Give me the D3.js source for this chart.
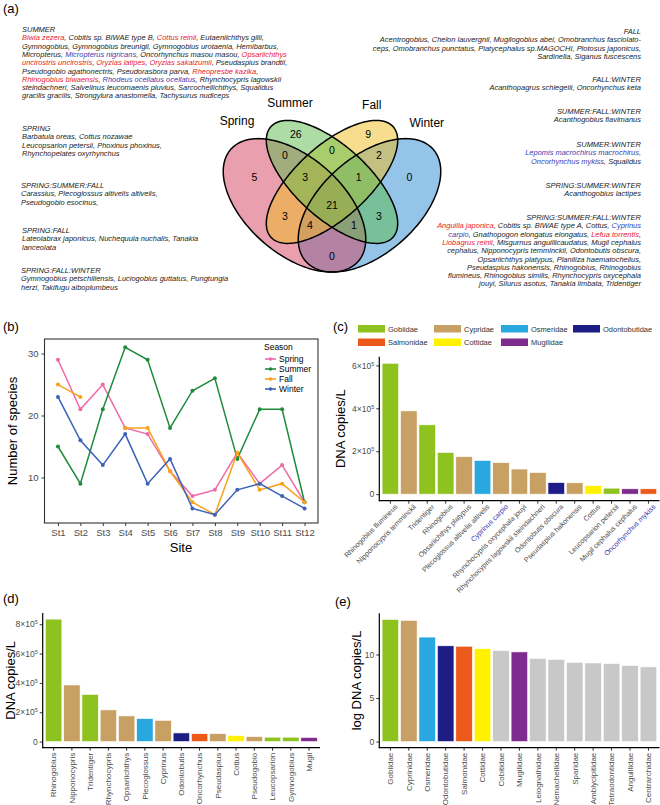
<!DOCTYPE html>
<html>
<head>
<meta charset="utf-8">
<script src="https://cdn.jsdelivr.net/npm/d3@7"></script>
<style>
body { margin: 0; background: #fff; }
svg { font-family: "Liberation Sans", Arial, sans-serif; }
</style>
</head>
<body>
<svg id="chart" width="660" height="805"></svg>
<script>
// ---------- data ----------
// species lists in the venn panel, segments: [text, colour flag]  (r = red, b = blue)
var summerSpp = [
  [["Biwia zezera", "r"], [", Cobitis sp. BIWAE type B, "], ["Cottus reinii", "r"], [", Eutaeniichthys gilli,"]],
  [["Gymnogobius, Gymnogobius breunigii, Gymnogobius urotaenia, Hemibarbus,"]],
  [["Micropterus, "], ["Micropterus nigricans", "b"], [", Oncorhynchus masou masou, "], ["Opsariichthys", "r"]],
  [["uncirostris uncirostris", "r"], [", "], ["Oryzias latipes", "r"], [", "], ["Oryzias sakaizumii", "r"], [", Pseudaspius brandtii,"]],
  [["Pseudogobio agathonectris, Pseudorasbora parva, "], ["Rheopresbe kazika", "r"], [","]],
  [["Rhinogobius biwaensis", "r"], [", "], ["Rhodeus ocellatus ocellatus", "b"], [", Rhynchocypris lagowskii"]],
  [["steindachneri, Salvelinus leucomaenis pluvius, Sarcocheilichthys, Squalidus"]],
  [["gracilis gracilis, Strongylura anastomella, Tachysurus nudiceps"]]
];
var springSpp = [
  [["Barbatula oreas, Cottus nozawae"]],
  [["Leucopsarion petersii, Phoxinus phoxinus,"]],
  [["Rhynchopelates oxyrhynchus"]]
];
var sprSumFallSpp = [
  [["Carassius, Plecoglossus altivelis altivelis,"]],
  [["Pseudogobio esocinus,"]]
];
var sprFallSpp = [
  [["Lateolabrax japonicus, Nuchequula nuchalis, Tanakia"]],
  [["lanceolata"]]
];
var sprFallWinSpp = [
  [["Gymnogobius petschiliensis, Luciogobius guttatus, Pungtungia"]],
  [["herzi, Takifugu alboplumbeus"]]
];
var fallSpp = [
  [["Acentrogobius, Chelon lauvergnii, Mugilogobius abei, Omobranchus fasciolato-"]],
  [["ceps, Omobranchus punctatus, Platycephalus sp.MAGOCHI, Plotosus japonicus,"]],
  [["Sardinella, Siganus fuscescens"]]
];
var fallWinSpp = [[["Acanthopagrus schlegelii, Oncorhynchus keta"]]];
var sumFallWinSpp = [[["Acanthogobius flavimanus"]]];
var sumWinSpp = [
  [["Lepomis macrochirus macrochirus,", "b"]],
  [["Oncorhynchus mykiss", "b"], [", Squalidus"]]
];
var sprSumWinSpp = [[["Acanthogobius lactipes"]]];
var allSeasonSpp = [
  [["Anguilla japonica", "r"], [", Cobitis sp. BIWAE type A, Cottus, "], ["Cyprinus", "b"]],
  [["carpio", "b"], [", Gnathopogon elongatus elongatus, "], ["Lefua torrentis", "r"], [","]],
  [["Liobagrus reinii", "r"], [", Misgurnus anguillicaudatus, Mugil cephalus"]],
  [["cephalus, Nipponocypris temminckii, Odontobutis obscura,"]],
  [["Opsariichthys platypus, Planiliza haematocheilus,"]],
  [["Pseudaspius hakonensis,  Rhinogobius, Rhinogobius"]],
  [["flumineus, Rhinogobius similis, Rhynchocypris oxycephala"]],
  [["jouyi, Silurus asotus, Tanakia limbata, Tridentiger"]]
];

// venn
var vennSets = ["Spring", "Summer", "Fall", "Winter"];
var vennFill = ["#d43f5e", "#5cbb4c", "#f0bd1e", "#2a8ad2"];
var vennCounts = [5, 26, 9, 0, 0, 0, 2, 3, 1, 21, 3, 3, 4, 1, 0];

// (b) species richness per site
var sites = ["St1", "St2", "St3", "St4", "St5", "St6", "St7", "St8", "St9", "St10", "St11", "St12"];
var seasons = ["Spring", "Summer", "Fall", "Winter"];
var springN = [29, 21, 25, 18, 17, 11, 7, 8, 14, 9, 12, 6];
var summerN = [15, 9, 21, 31, 29, 18, 24, 26, 13, 21, 21, 6];
var fallN = [25, 23, null, 18, 18, 11, 6, 4, 14, 8, 9, 6];
var winterN = [23, 16, 12, 17, 9, 13, 5, 4, 8, 9, 7, 5];
var seasonColors = ["#ef6aa8", "#1f8b3b", "#f7a21b", "#3b62b8"];

// family colours
var families = ["Gobiidae", "Cypridae", "Osmeridae", "Odontobutidae", "Salmonidae", "Cottidae", "Mugilidae"];
var familyColors = ["#8dc21f", "#c8a064", "#29a8e0", "#1d1d85", "#eb5a1b", "#fff200", "#7e2d8e"];

// (c) species
var cSpecies = ["Rhinogobius flumineus", "Nipponocypris temminckii", "Tridentiger", "Rhinogobius",
  "Opsariichthys platypus", "Plecoglossus altivelis altivelis", "Cyprinus carpio",
  "Rhynchocypris oxycephala jouyi", "Rhynchocypris lagowskii steindachneri", "Odontobutis obscura",
  "Pseudaspius hakonensis", "Cottus", "Leucopsarion petersii", "Mugil cephalus cephalus", "Oncorhynchus mykiss"];
var cValues = [610000, 388000, 323000, 194000, 175000, 157000, 147000, 117000, 101000, 54000, 53000, 40000, 28000, 25000, 25000];
var cFamily = ["Gobiidae", "Cypridae", "Gobiidae", "Gobiidae", "Cypridae", "Osmeridae", "Cypridae", "Cypridae",
  "Cypridae", "Odontobutidae", "Cypridae", "Cottidae", "Gobiidae", "Mugilidae", "Salmonidae"];
var cBlueLabels = ["Cyprinus carpio", "Oncorhynchus mykiss"];

// (d) genus
var dGenus = ["Rhinogobius", "Nipponocypris", "Tridentiger", "Rhynchocypris", "Opsariichthys", "Plecoglossus",
  "Cyprinus", "Odontobutis", "Oncorhynchus", "Pseudaspius", "Cottus", "Pseudogobio", "Leucopsarion", "Gymnogobius", "Mugil"];
var dValues = [835000, 386000, 322000, 216000, 175000, 157000, 145000, 59000, 54000, 54000, 41000, 34000, 30000, 30000, 28000];
var dFamily = ["Gobiidae", "Cypridae", "Gobiidae", "Cypridae", "Cypridae", "Osmeridae", "Cypridae", "Odontobutidae",
  "Salmonidae", "Cypridae", "Cottidae", "Cypridae", "Gobiidae", "Gobiidae", "Mugilidae"];

// (e) family, log copies
var eFamily = ["Gobiidae", "Cyprinidae", "Osmeridae", "Odontobutidae", "Salmonidae", "Cottidae", "Cobitidae", "Mugilidae",
  "Leiognathidae", "Nemacheilidae", "Sparidae", "Amblycipitidae", "Tetraodontidae", "Anguillidae", "Centrarchidae"];
var eValues = [14.03, 13.92, 12.0, 11.0, 10.95, 10.67, 10.45, 10.3, 9.55, 9.44, 9.1, 9.03, 8.96, 8.73, 8.58];
var eColors = ["#8dc21f", "#c8a064", "#29a8e0", "#1d1d85", "#eb5a1b", "#fff200", "#c8c8c8", "#7e2d8e",
  "#c8c8c8", "#c8c8c8", "#c8c8c8", "#c8c8c8", "#c8c8c8", "#c8c8c8", "#c8c8c8"];

// ---------- drawing ----------
var svg = d3.select("#chart");
var RED = "#e8202a", BLUE = "#3b3bb0", TICK = "#4d4d4d";
var famColor = d3.scaleOrdinal().domain(families).range(familyColors);

function panelLabel(txt, x, y) {
  svg.append("text").attr("x", x).attr("y", y).style("font-size", "13px").text(txt);
}

/* species text block: header + lines */
var blockFont = 7.2;
// size the italic species text so the 2nd SUMMER line spans ~257px like the figure
(function () {
  var probe = svg.append("text").style("font-size", "10px").style("font-style", "italic")
    .text(summerSpp[1][0][0]);
  blockFont = 10 * 257 / probe.node().getComputedTextLength();
  probe.remove();
})();

function textBlock(head, lines, x, y, anchor) {
  var lh = 8.3;
  var g = svg.append("g").style("font-size", blockFont + "px").style("font-style", "italic")
    .attr("text-anchor", anchor);
  g.append("text").attr("x", x).attr("y", y).attr("fill", "#222").text(head);
  lines.forEach(function (segs, i) {
    var t = g.append("text").attr("x", x).attr("y", y + lh * (i + 1)).attr("fill", "#222");
    segs.forEach(function (s) {
      t.append("tspan").attr("fill", s[1] == "r" ? RED : s[1] == "b" ? BLUE : "#222").text(s[0]);
    });
  });
}

// ===== (a) =====
panelLabel("(a)", 3, 13);
textBlock("SUMMER", summerSpp, 22, 32, "start");
textBlock("SPRING", springSpp, 22, 131, "start");
textBlock("SPRING:SUMMER:FALL", sprSumFallSpp, 21, 188, "start");
textBlock("SPRING:FALL", sprFallSpp, 22, 233, "start");
textBlock("SPRING:FALL:WINTER", sprFallWinSpp, 21, 273, "start");

textBlock("FALL", fallSpp, 641, 34, "end");
textBlock("FALL:WINTER", fallWinSpp, 641, 82, "end");
textBlock("SUMMER:FALL:WINTER", sumFallWinSpp, 641, 114, "end");
textBlock("SUMMER:WINTER", sumWinSpp, 641, 147, "end");
textBlock("SPRING:SUMMER:WINTER", sprSumWinSpp, 641, 188, "end");
textBlock("SPRING:SUMMER:FALL:WINTER", allSeasonSpp, 641, 220, "end");

// venn in unit coordinates (like VennDiagram's quad layout)
var vx = d3.scaleLinear().domain([0, 1]).range([207, 457]);
var vy = d3.scaleLinear().domain([0, 1]).range([315.3, 81.3]);
var ellipses = [
  [0.35, 0.47, 0.35, 0.20, 135],
  [0.50, 0.57, 0.34, 0.15, 135],
  [0.50, 0.57, 0.34, 0.15, 45],
  [0.65, 0.47, 0.35, 0.20, 45]
];
var drawOrder = [3, 0, 2, 1]; // winter, spring, fall, summer
var ellLine = d3.line().x(function (p) { return vx(p[0]); }).y(function (p) { return vy(p[1]); })
  .curve(d3.curveLinearClosed);
function ellipsePts(e) {
  var r = e[4] * Math.PI / 180, pts = [];
  for (var k = 0; k < 180; k++) {
    var t = k / 180 * 2 * Math.PI;
    var u = e[2] * Math.cos(t), v = e[3] * Math.sin(t);
    pts.push([e[0] + u * Math.cos(r) - v * Math.sin(r), e[1] + u * Math.sin(r) + v * Math.cos(r)]);
  }
  return pts;
}
var venn = svg.append("g");
venn.selectAll("path.fill").data(drawOrder).enter().append("path")
  .attr("d", function (i) { return ellLine(ellipsePts(ellipses[i])); })
  .attr("fill", function (i) { return vennFill[i]; })
  .attr("fill-opacity", 0.5);
venn.selectAll("path.edge").data(ellipses).enter().append("path")
  .attr("d", function (e) { return ellLine(ellipsePts(e)); })
  .attr("fill", "none").attr("stroke", "#000").attr("stroke-width", 1.5);

var setLabelPos = [[0.12, 0.83], [0.332, 0.909], [0.659, 0.899], [0.879, 0.822]];
venn.selectAll("text.set").data(vennSets).enter().append("text")
  .attr("x", function (d, i) { return vx(setLabelPos[i][0]); })
  .attr("y", function (d, i) { return vy(setLabelPos[i][1]) + 4; })
  .attr("text-anchor", "middle").style("font-size", "12px").text(function (d) { return d; });

// regions: Sp, Su, F, W, SpSu, SuF, FW, SpSuF, SuFW, all, SpF, SuW, SpFW, SpSuW, SpW
var regionPos = [[0.19, 0.59], [0.355, 0.775], [0.645, 0.775], [0.81, 0.59], [0.312, 0.682], [0.5, 0.705],
  [0.688, 0.682], [0.393, 0.588], [0.607, 0.588], [0.5, 0.468], [0.312, 0.424], [0.688, 0.424],
  [0.412, 0.383], [0.588, 0.383], [0.5, 0.253]];
venn.selectAll("text.cnt").data(vennCounts).enter().append("text")
  .attr("x", function (d, i) { return vx(regionPos[i][0]); })
  .attr("y", function (d, i) { return vy(regionPos[i][1]) + 3.7; })
  .attr("text-anchor", "middle").style("font-size", "10.5px").text(function (d) { return d; });

// ===== (b) =====
panelLabel("(b)", 3, 331);
var bx = d3.scalePoint().domain(sites).range([44.5, 318]).padding(0.6);
var by = d3.scaleLinear().domain([2.65, 32.35]).range([523, 339]);
var bg = svg.append("g");
bg.append("g").attr("transform", "translate(0,523)")
  .call(d3.axisBottom(bx).tickSize(3).tickPadding(3))
  .call(function (g) {
    g.select(".domain").remove();
    g.selectAll(".tick line").attr("stroke", "#333");
    g.selectAll(".tick text").attr("fill", TICK).style("font-size", "9.5px");
  });
bg.append("g").attr("transform", "translate(44.5,0)")
  .call(d3.axisLeft(by).tickValues([10, 20, 30]).tickSize(3).tickPadding(3))
  .call(function (g) {
    g.select(".domain").remove();
    g.selectAll(".tick line").attr("stroke", "#333");
    g.selectAll(".tick text").attr("fill", TICK).style("font-size", "9.5px");
  });
var seriesB = [springN, summerN, fallN, winterN];
var bline = d3.line().defined(function (d) { return d != null; })
  .x(function (d, i) { return bx(sites[i]); }).y(function (d) { return by(d); });
seriesB.forEach(function (s, k) {
  bg.append("path").datum(s).attr("d", bline).attr("fill", "none")
    .attr("stroke", seasonColors[k]).attr("stroke-width", 1.5);
  s.forEach(function (v, i) {
    if (v == null) return;
    bg.append("circle").attr("cx", bx(sites[i])).attr("cy", by(v)).attr("r", 2)
      .attr("fill", seasonColors[k]);
  });
});
bg.append("rect").attr("x", 44.5).attr("y", 339).attr("width", 318 - 44.5).attr("height", 523 - 339)
  .attr("fill", "none").attr("stroke", "#333").attr("stroke-width", 1.1);
bg.append("text").attr("x", 181).attr("y", 552).attr("text-anchor", "middle")
  .style("font-size", "13px").text("Site");
bg.append("text").attr("transform", "translate(17,431) rotate(-90)").attr("text-anchor", "middle")
  .style("font-size", "13px").text("Number of species");
// legend
var leg = bg.append("g").style("font-size", "8.5px");
leg.append("text").attr("x", 264).attr("y", 350).text("Season");
seasons.forEach(function (s, k) {
  var yy = 359 + k * 10;
  leg.append("line").attr("x1", 265).attr("x2", 276).attr("y1", yy).attr("y2", yy)
    .attr("stroke", seasonColors[k]).attr("stroke-width", 1.6);
  leg.append("circle").attr("cx", 270.5).attr("cy", yy).attr("r", 1.8).attr("fill", seasonColors[k]);
  leg.append("text").attr("x", 279).attr("y", yy + 3).text(s);
});

// ===== bar chart helper =====
function sciTicks(g) {
  g.selectAll(".tick text").each(function (d) {
    var t = d3.select(this);
    t.text("");
    if (d === 0) { t.text("0"); return; }
    t.append("tspan").text((d / 1e5) + "×10");
    t.append("tspan").attr("dy", "-3").style("font-size", "5.5px").text("5");
  });
}
function barChart(o) {
  var g = svg.append("g");
  var x = d3.scaleBand().domain(o.cats).range([o.x0, o.x1]).paddingInner(0.1).paddingOuter(0.15);
  var mx = d3.max(o.vals);
  var y = d3.scaleLinear().domain([-0.05 * mx, 1.05 * mx]).range([o.y1, o.y0]);
  g.selectAll("rect").data(o.vals).enter().append("rect")
    .attr("x", function (d, i) { return x(o.cats[i]); })
    .attr("width", x.bandwidth())
    .attr("y", function (d) { return y(d); })
    .attr("height", function (d) { return y(0) - y(d); })
    .attr("fill", function (d, i) { return o.colors[i]; })
    .attr("stroke", "#fff").attr("stroke-width", 0.6);
  var ya = g.append("g").attr("transform", "translate(" + o.x0 + ",0)")
    .call(d3.axisLeft(y).tickValues(o.ticks).tickSize(3).tickPadding(2));
  ya.select(".domain").remove();
  ya.selectAll(".tick line").attr("stroke", "#333");
  ya.selectAll(".tick text").attr("fill", TICK).style("font-size", "8.5px");
  if (o.sci) sciTicks(ya);
  var xa = g.append("g").attr("transform", "translate(0," + o.y1 + ")")
    .call(d3.axisBottom(x).tickSize(3).tickPadding(2));
  xa.select(".domain").remove();
  xa.selectAll(".tick line").attr("stroke", "#333");
  xa.selectAll(".tick text").attr("fill", function (d) { return o.blue && o.blue.indexOf(d) >= 0 ? BLUE : TICK; })
    .style("font-size", o.labelSize);
  if (o.rot == 45) {
    xa.selectAll(".tick text").attr("text-anchor", "end")
      .attr("transform", "translate(3,2) rotate(-45)").attr("dy", "0.35em").attr("y", 4).attr("x", 0);
  } else {
    xa.selectAll(".tick text").attr("text-anchor", "end")
      .attr("transform", "rotate(-90)").attr("dy", "0.35em").attr("y", 0).attr("x", -5);
  }
  g.append("line").attr("x1", o.x0).attr("x2", o.x0).attr("y1", o.y0).attr("y2", o.y1 + 0.5)
    .attr("stroke", "#000").attr("stroke-width", 1.2);
  g.append("line").attr("x1", o.x0 - 0.5).attr("x2", o.x1).attr("y1", o.y1).attr("y2", o.y1)
    .attr("stroke", "#000").attr("stroke-width", 1.2);
  g.append("text").attr("transform", "translate(" + o.tx + "," + ((o.y0 + o.y1) / 2) + ") rotate(-90)")
    .attr("text-anchor", "middle").style("font-size", "13px").text(o.title);
  return g;
}

// ===== (c) =====
panelLabel("(c)", 333, 331);
var legC = svg.append("g").style("font-size", "7.5px");
var legCols = [358, 434, 501, 573];
families.forEach(function (f, i) {
  var col = i < 4 ? i : i - 4, row = i < 4 ? 0 : 1;
  var lx = legCols[col], ly = 325 + row * 13.5;
  legC.append("rect").attr("x", lx).attr("y", ly).attr("width", 27).attr("height", 7.5)
    .attr("fill", famColor(f));
  legC.append("text").attr("x", lx + 30).attr("y", ly + 6.5).attr("fill", "#333").text(f);
});
barChart({
  cats: cSpecies, vals: cValues, colors: cFamily.map(function (f) { return famColor(f); }),
  x0: 379.3, x1: 659.5, y0: 356.7, y1: 500.7, ticks: [0, 200000, 400000, 600000], sci: true,
  rot: 45, labelSize: "7.1px", blue: cBlueLabels, title: "DNA copies/L", tx: 345
});

// ===== (d) =====
panelLabel("(d)", 3, 603);
barChart({
  cats: dGenus, vals: dValues, colors: dFamily.map(function (f) { return famColor(f); }),
  x0: 42.7, x1: 320, y0: 613, y1: 747.7, ticks: [0, 200000, 400000, 600000, 800000], sci: true,
  rot: 90, labelSize: "8px", title: "DNA copies/L", tx: 15
});

// ===== (e) =====
panelLabel("(e)", 335, 606);
barChart({
  cats: eFamily, vals: eValues, colors: eColors,
  x0: 379.3, x1: 659.5, y0: 613.3, y1: 747.7, ticks: [0, 5, 10], sci: false,
  rot: 90, labelSize: "8px", title: "log DNA copies/L", tx: 361
});
</script>
</body>
</html>
